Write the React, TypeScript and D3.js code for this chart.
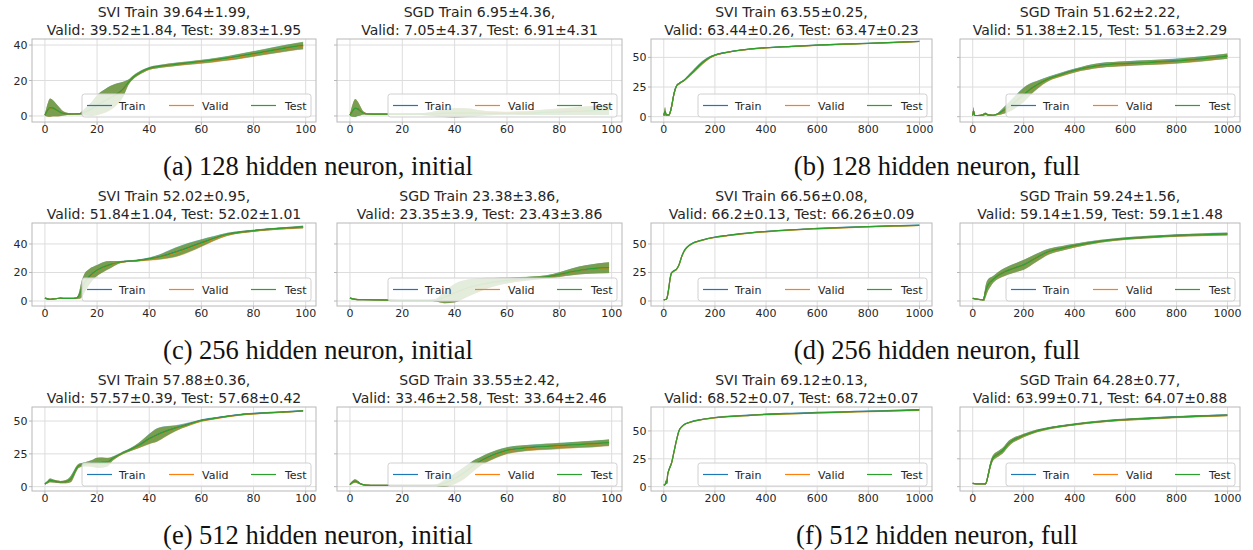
import React from "react";
import * as d3 from "d3";

const SERIES = ["Train", "Valid", "Test"];
const SERIES_COLORS = ["#1f77b4", "#ff7f0e", "#2ca02c"];

const SHORT_TICKS = [0, 20, 40, 60, 80, 100];
const LONG_TICKS = [0, 200, 400, 600, 800, 1000];

// (a) 128 hidden neurons, initial
const aSviEpoch = [0, 1, 2, 3, 5, 7, 10, 13, 15, 18, 20, 23, 25, 28, 30, 32, 34, 36, 38, 40, 45, 50, 55, 60, 65, 70, 75, 80, 85, 90, 95, 99];
const aSviTrain = [0.5, 3.2, 4.7, 4.4, 2.8, 1.5, 1.1, 1.2, 2.0, 4.0, 6.2, 8.5, 10.1, 12.8, 15.1, 19.0, 22.0, 24.0, 25.6, 26.8, 28.2, 29.1, 29.8, 30.6, 31.5, 32.5, 33.7, 35.0, 36.3, 37.6, 38.8, 39.6];
const aSviValid = [0.5, 3.1, 4.6, 4.3, 2.7, 1.5, 1.1, 1.2, 2.0, 3.9, 6.0, 8.3, 10.0, 12.6, 15.0, 18.9, 21.9, 23.9, 25.5, 26.7, 28.1, 29.0, 29.7, 30.5, 31.3, 32.3, 33.5, 34.8, 36.1, 37.4, 38.7, 39.5];
const aSviTest = [0.5, 3.2, 4.7, 4.4, 2.8, 1.5, 1.1, 1.2, 2.0, 4.0, 6.1, 8.4, 10.1, 12.7, 15.1, 19.0, 22.0, 24.0, 25.6, 26.8, 28.2, 29.1, 29.9, 30.7, 31.6, 32.6, 33.8, 35.1, 36.4, 37.7, 39.0, 39.8];
const aSviStd = [0.4, 3.5, 5.2, 4.6, 3.0, 1.2, 0.4, 0.3, 1.8, 4.0, 5.6, 6.6, 6.8, 5.8, 4.2, 1.5, 1.0, 0.9, 0.9, 0.8, 0.8, 0.9, 0.9, 1.0, 1.1, 1.2, 1.4, 1.5, 1.6, 1.8, 1.9, 2.0];

const aSgdEpoch = [0, 1, 2, 3, 4, 5, 7, 10, 15, 20, 25, 30, 35, 40, 45, 50, 55, 60, 65, 70, 75, 80, 85, 90, 95, 99];
const aSgdTrain = [0.5, 3.0, 4.5, 4.0, 2.8, 1.8, 1.1, 1.0, 1.0, 1.0, 1.0, 1.1, 1.5, 1.8, 1.8, 1.6, 1.5, 1.5, 1.6, 1.8, 2.1, 2.4, 2.7, 3.0, 3.3, 3.5];
const aSgdValid = [0.5, 3.1, 4.6, 4.1, 2.9, 1.8, 1.1, 1.0, 1.0, 1.0, 1.0, 1.1, 1.5, 1.9, 1.9, 1.7, 1.6, 1.6, 1.7, 1.9, 2.2, 2.5, 2.8, 3.1, 3.4, 3.6];
const aSgdTest = [0.5, 3.0, 4.4, 4.0, 2.8, 1.7, 1.1, 1.0, 1.0, 1.0, 1.0, 1.1, 1.4, 1.8, 1.8, 1.6, 1.5, 1.5, 1.6, 1.8, 2.1, 2.3, 2.6, 2.9, 3.2, 3.4];
const aSgdStd = [0.4, 3.5, 5.0, 4.0, 2.5, 1.0, 0.3, 0.2, 0.2, 0.2, 0.3, 0.8, 2.0, 2.6, 2.4, 1.5, 1.0, 0.8, 1.0, 1.2, 1.5, 1.8, 2.1, 2.4, 2.6, 2.8];

// (b) 128 hidden neurons, full
const bSviEpoch = [0, 5, 10, 20, 30, 40, 50, 60, 80, 100, 120, 150, 175, 200, 250, 300, 400, 500, 600, 700, 800, 900, 999];
const bSviTrain = [1.0, 4.5, 1.5, 1.5, 8.0, 19.5, 26.0, 28.0, 30.8, 35.0, 39.2, 45.4, 49.5, 52.0, 54.5, 56.2, 58.2, 59.3, 60.4, 61.2, 61.9, 62.7, 63.5];
const bSviValid = [1.0, 4.4, 1.5, 1.5, 7.8, 19.2, 25.8, 27.8, 30.6, 34.7, 38.9, 45.0, 49.1, 51.7, 54.2, 56.0, 58.0, 59.1, 60.2, 61.0, 61.7, 62.5, 63.4];
const bSviTest = [1.0, 4.5, 1.5, 1.5, 7.9, 19.4, 25.9, 27.9, 30.7, 34.8, 39.0, 45.2, 49.3, 51.9, 54.3, 56.1, 58.1, 59.2, 60.3, 61.1, 61.8, 62.6, 63.4];
const bSviStd = [0.5, 3.5, 0.8, 0.8, 2.5, 2.0, 1.0, 0.8, 0.8, 1.2, 1.5, 1.5, 1.0, 0.6, 0.4, 0.3, 0.3, 0.3, 0.3, 0.3, 0.3, 0.3, 0.3];

const bSgdEpoch = [0, 3, 8, 20, 40, 50, 60, 80, 100, 120, 150, 175, 200, 225, 250, 300, 350, 400, 500, 600, 700, 800, 900, 999];
const bSgdTrain = [1.0, 5.0, 1.0, 1.0, 1.5, 2.5, 1.5, 1.2, 2.4, 5.0, 9.5, 14.0, 18.5, 23.0, 26.5, 32.2, 35.8, 39.0, 43.3, 44.8, 45.8, 47.0, 48.8, 51.1];
const bSgdValid = [1.0, 5.0, 1.0, 1.0, 1.5, 2.4, 1.5, 1.2, 2.3, 4.8, 9.2, 13.7, 18.2, 22.7, 26.2, 31.9, 35.5, 38.7, 43.0, 44.5, 45.5, 46.7, 48.5, 50.8];
const bSgdTest = [1.0, 5.0, 1.0, 1.0, 1.5, 2.5, 1.5, 1.2, 2.4, 5.0, 9.4, 13.9, 18.4, 22.9, 26.4, 32.1, 35.7, 38.9, 43.2, 44.7, 45.7, 46.9, 48.8, 51.1];
const bSgdStd = [0.5, 3.0, 0.5, 0.3, 0.8, 1.0, 0.5, 0.4, 1.0, 2.5, 4.5, 5.5, 6.0, 5.0, 3.5, 1.8, 1.6, 1.6, 2.0, 2.0, 2.0, 2.0, 2.1, 2.2];

// (c) 256 hidden neurons, initial
const cSviEpoch = [0, 2, 4, 6, 8, 10, 12, 13, 14, 15, 17, 20, 22, 25, 28, 30, 35, 40, 45, 50, 55, 60, 65, 70, 75, 80, 85, 90, 95, 99];
const cSviTrain = [2.0, 1.2, 1.6, 2.0, 1.8, 1.8, 2.0, 3.5, 8.0, 12.0, 17.0, 21.5, 23.5, 25.5, 27.0, 27.6, 28.3, 29.5, 31.5, 34.3, 37.5, 40.8, 44.0, 46.8, 48.3, 49.3, 50.2, 50.9, 51.4, 51.9];
const cSviValid = [2.0, 1.2, 1.6, 2.0, 1.8, 1.8, 2.0, 3.4, 7.8, 11.8, 16.8, 21.3, 23.3, 25.3, 26.9, 27.5, 28.1, 29.2, 31.1, 33.8, 37.0, 40.3, 43.6, 46.5, 48.1, 49.1, 50.0, 50.7, 51.2, 51.7];
const cSviTest = [2.0, 1.2, 1.6, 2.0, 1.8, 1.8, 2.0, 3.5, 8.0, 12.0, 17.0, 21.5, 23.5, 25.5, 27.0, 27.6, 28.3, 29.5, 31.4, 34.2, 37.4, 40.7, 44.0, 46.8, 48.3, 49.3, 50.2, 50.9, 51.5, 52.0];
const cSviStd = [0.3, 0.2, 0.3, 0.3, 0.3, 0.3, 0.5, 2.0, 5.5, 6.5, 5.5, 3.8, 3.5, 2.5, 1.0, 0.6, 0.6, 1.0, 2.0, 3.2, 3.2, 2.5, 1.5, 1.0, 0.8, 0.7, 0.7, 0.7, 0.8, 0.9];

const cSgdEpoch = [0, 2, 5, 10, 15, 20, 25, 30, 33, 36, 40, 45, 50, 55, 60, 65, 70, 75, 80, 85, 90, 95, 99];
const cSgdTrain = [2.0, 1.2, 1.0, 0.8, 0.6, 0.5, 0.4, 0.4, 0.6, 2.5, 5.5, 9.0, 11.5, 13.2, 14.3, 15.2, 16.0, 16.8, 18.5, 20.5, 22.0, 22.9, 23.4];
const cSgdValid = [2.0, 1.2, 1.0, 0.8, 0.6, 0.5, 0.4, 0.4, 0.6, 2.4, 5.4, 8.9, 11.4, 13.1, 14.2, 15.1, 15.9, 16.7, 18.4, 20.4, 21.9, 22.8, 23.3];
const cSgdTest = [2.0, 1.2, 1.0, 0.8, 0.6, 0.5, 0.4, 0.4, 0.6, 2.5, 5.6, 9.1, 11.6, 13.3, 14.4, 15.3, 16.1, 16.9, 18.6, 20.6, 22.1, 23.0, 23.4];
const cSgdStd = [0.4, 0.3, 0.2, 0.2, 0.2, 0.2, 0.2, 0.3, 1.0, 4.0, 6.5, 6.0, 4.5, 3.0, 2.0, 1.5, 1.2, 1.2, 1.6, 2.4, 3.0, 3.5, 3.8];

// (d) 256 hidden neurons, full
const dSviEpoch = [0, 10, 15, 20, 25, 30, 40, 50, 60, 70, 80, 90, 100, 120, 150, 200, 250, 300, 400, 500, 600, 700, 800, 900, 999];
const dSviTrain = [1.0, 1.5, 5.0, 12.0, 20.0, 24.5, 26.5, 28.0, 32.0, 39.0, 44.0, 47.0, 49.0, 51.5, 53.5, 56.0, 57.6, 59.0, 61.0, 62.5, 63.6, 64.5, 65.3, 66.0, 66.6];
const dSviValid = [1.0, 1.5, 4.9, 11.8, 19.8, 24.3, 26.3, 27.8, 31.8, 38.7, 43.7, 46.7, 48.7, 51.2, 53.2, 55.7, 57.3, 58.7, 60.7, 62.2, 63.3, 64.2, 65.0, 65.6, 66.2];
const dSviTest = [1.0, 1.5, 5.0, 11.9, 19.9, 24.4, 26.4, 27.9, 31.9, 38.9, 43.9, 46.9, 48.9, 51.4, 53.4, 55.9, 57.5, 58.9, 60.9, 62.4, 63.5, 64.4, 65.2, 65.8, 66.3];
const dSviStd = [0.3, 0.5, 1.5, 1.5, 1.0, 0.8, 0.6, 0.5, 0.5, 0.5, 0.4, 0.3, 0.3, 0.2, 0.2, 0.2, 0.1, 0.1, 0.1, 0.1, 0.1, 0.1, 0.1, 0.1, 0.1];

const dSgdEpoch = [0, 10, 20, 30, 40, 45, 50, 60, 70, 80, 100, 125, 150, 175, 200, 250, 300, 350, 400, 500, 600, 700, 800, 900, 999];
const dSgdTrain = [2.3, 1.8, 1.5, 1.2, 0.9, 3.0, 8.0, 14.0, 16.8, 19.0, 22.5, 25.5, 27.8, 29.8, 31.8, 38.0, 43.5, 46.2, 48.6, 52.4, 54.8, 56.3, 57.5, 58.2, 58.8];
const dSgdValid = [2.3, 1.8, 1.5, 1.2, 0.9, 2.9, 7.8, 13.8, 16.6, 18.8, 22.3, 25.3, 27.6, 29.6, 31.6, 37.8, 43.3, 46.0, 48.4, 52.2, 54.6, 56.1, 57.3, 58.0, 58.7];
const dSgdTest = [2.3, 1.8, 1.5, 1.2, 0.9, 3.0, 7.9, 13.9, 16.7, 18.9, 22.4, 25.4, 27.7, 29.7, 31.7, 37.9, 43.4, 46.1, 48.5, 52.3, 54.7, 56.2, 57.4, 58.1, 58.7];
const dSgdStd = [0.4, 0.4, 0.4, 0.3, 0.3, 3.0, 5.0, 5.0, 4.0, 3.0, 3.0, 3.5, 3.8, 4.0, 4.3, 3.5, 2.5, 2.0, 1.6, 1.2, 1.1, 1.1, 1.1, 1.2, 1.2];

// (e) 512 hidden neurons, initial
const eSviEpoch = [0, 1, 2, 4, 6, 8, 10, 11, 12, 13, 15, 18, 20, 22, 24, 26, 28, 30, 33, 36, 40, 43, 46, 50, 55, 60, 65, 70, 75, 80, 85, 90, 95, 99];
const eSviTrain = [2.0, 3.5, 4.8, 4.0, 3.5, 3.8, 6.0, 9.5, 13.5, 16.0, 17.0, 17.8, 18.3, 18.5, 18.8, 21.5, 23.8, 25.9, 28.5, 31.5, 36.5, 39.5, 42.0, 44.6, 47.6, 50.6, 52.2, 53.8, 55.0, 55.8, 56.4, 56.9, 57.4, 57.9];
const eSviValid = [2.0, 3.4, 4.7, 4.0, 3.5, 3.8, 5.9, 9.3, 13.3, 15.8, 16.8, 17.6, 18.1, 18.3, 18.6, 21.3, 23.6, 25.7, 28.3, 31.2, 36.2, 39.2, 41.7, 44.3, 47.2, 50.1, 51.8, 53.4, 54.6, 55.4, 56.0, 56.6, 57.1, 57.6];
const eSviTest = [2.0, 3.5, 4.8, 4.0, 3.5, 3.8, 6.0, 9.4, 13.4, 15.9, 16.9, 17.7, 18.2, 18.4, 18.7, 21.4, 23.7, 25.8, 28.4, 31.4, 36.4, 39.4, 41.9, 44.5, 47.4, 50.4, 52.0, 53.6, 54.8, 55.6, 56.2, 56.7, 57.2, 57.7];
const eSviStd = [0.3, 1.0, 1.5, 1.0, 0.8, 1.2, 2.5, 2.5, 2.0, 1.5, 1.5, 2.5, 3.8, 3.8, 3.2, 1.5, 1.0, 1.0, 1.2, 2.0, 3.8, 5.0, 4.0, 2.2, 1.2, 0.8, 0.6, 0.5, 0.5, 0.4, 0.4, 0.4, 0.4, 0.4];

const eSgdEpoch = [0, 1, 2, 3, 4, 6, 10, 15, 20, 25, 30, 33, 36, 40, 44, 48, 50, 53, 56, 60, 65, 70, 75, 80, 85, 90, 95, 99];
const eSgdTrain = [1.5, 3.5, 4.3, 3.5, 2.2, 1.2, 1.0, 1.0, 1.0, 1.0, 1.0, 1.1, 2.5, 6.0, 11.0, 17.0, 19.5, 22.5, 25.0, 27.5, 29.0, 29.9, 30.5, 31.1, 31.7, 32.3, 32.9, 33.5];
const eSgdValid = [1.5, 3.5, 4.2, 3.4, 2.2, 1.2, 1.0, 1.0, 1.0, 1.0, 1.0, 1.1, 2.4, 5.8, 10.8, 16.7, 19.2, 22.2, 24.7, 27.2, 28.7, 29.6, 30.2, 30.8, 31.4, 32.0, 32.7, 33.3];
const eSgdTest = [1.5, 3.5, 4.3, 3.5, 2.2, 1.2, 1.0, 1.0, 1.0, 1.0, 1.0, 1.1, 2.5, 6.1, 11.1, 17.1, 19.6, 22.6, 25.1, 27.6, 29.1, 30.0, 30.6, 31.2, 31.8, 32.4, 33.0, 33.6];
const eSgdStd = [0.4, 1.0, 1.3, 1.0, 0.6, 0.3, 0.2, 0.2, 0.2, 0.2, 0.2, 0.5, 2.5, 4.0, 4.5, 3.8, 3.2, 3.0, 2.8, 2.5, 2.3, 2.2, 2.2, 2.2, 2.3, 2.4, 2.4, 2.5];

// (f) 512 hidden neurons, full
const fSviEpoch = [0, 5, 8, 10, 12, 15, 20, 25, 30, 40, 50, 60, 70, 80, 100, 150, 200, 300, 400, 500, 600, 700, 800, 900, 999];
const fSviTrain = [1.5, 2.0, 3.5, 5.0, 3.0, 10.5, 15.0, 18.0, 21.0, 31.4, 42.0, 50.5, 53.8, 55.8, 57.8, 60.5, 62.1, 63.8, 65.1, 65.9, 66.6, 67.2, 67.8, 68.4, 69.1];
const fSviValid = [1.5, 2.0, 3.4, 4.9, 3.0, 10.3, 14.8, 17.8, 20.8, 31.1, 41.7, 50.2, 53.5, 55.5, 57.5, 60.2, 61.8, 63.4, 64.7, 65.4, 66.1, 66.7, 67.3, 67.9, 68.5];
const fSviTest = [1.5, 2.0, 3.5, 5.0, 3.0, 10.4, 14.9, 17.9, 20.9, 31.3, 41.9, 50.4, 53.7, 55.7, 57.6, 60.3, 61.9, 63.5, 64.8, 65.5, 66.2, 66.9, 67.5, 68.1, 68.7];
const fSviStd = [0.4, 0.5, 1.5, 2.0, 1.0, 1.2, 1.0, 1.0, 1.0, 0.8, 0.6, 0.5, 0.3, 0.2, 0.2, 0.1, 0.1, 0.1, 0.1, 0.1, 0.1, 0.1, 0.1, 0.1, 0.1];

const fSgdEpoch = [0, 20, 40, 50, 55, 60, 70, 80, 100, 120, 140, 160, 180, 200, 250, 300, 400, 500, 600, 700, 800, 900, 999];
const fSgdTrain = [3.0, 2.5, 2.5, 2.5, 5.0, 10.0, 20.0, 26.0, 29.5, 33.0, 38.5, 42.0, 44.0, 46.0, 50.0, 52.6, 56.0, 58.5, 60.2, 61.5, 62.6, 63.5, 64.3];
const fSgdValid = [3.0, 2.5, 2.5, 2.5, 4.9, 9.8, 19.8, 25.8, 29.3, 32.8, 38.3, 41.8, 43.8, 45.8, 49.8, 52.4, 55.8, 58.3, 60.0, 61.2, 62.3, 63.2, 64.0];
const fSgdTest = [3.0, 2.5, 2.5, 2.5, 5.0, 9.9, 19.9, 25.9, 29.4, 32.9, 38.4, 41.9, 43.9, 45.9, 49.9, 52.5, 55.9, 58.4, 60.1, 61.3, 62.4, 63.3, 64.1];
const fSgdStd = [0.5, 0.3, 0.3, 0.5, 1.5, 2.5, 3.0, 2.5, 2.5, 2.5, 2.5, 2.0, 1.8, 1.5, 1.2, 1.0, 0.9, 0.9, 0.9, 0.9, 0.8, 0.8, 0.8];

// axis limits per subfigure (SVI and SGD share y)
const yLimits = [[-3.4, 43.4], [-4.5, 65.5], [-3.5, 54.7], [-4.4, 68.4], [-3.3, 60.7], [-3.9, 71.5]];
const yTickSets = [[0, 20, 40], [0, 25, 50], [0, 20, 40], [0, 25, 50], [0, 25, 50], [0, 25, 50]];

const captions = [
  "(a) 128 hidden neuron, initial", "(b) 128 hidden neuron, full",
  "(c) 256 hidden neuron, initial", "(d) 256 hidden neuron, full",
  "(e) 512 hidden neuron, initial", "(f) 512 hidden neuron, full",
];

const panels = [
  { sub: 0, method: 0, title: ["SVI Train 39.64±1.99,", "Valid: 39.52±1.84, Test: 39.83±1.95"], epoch: aSviEpoch, vals: [aSviTrain, aSviValid, aSviTest], std: aSviStd },
  { sub: 0, method: 1, title: ["SGD Train 6.95±4.36,", "Valid: 7.05±4.37, Test: 6.91±4.31"], epoch: aSgdEpoch, vals: [aSgdTrain, aSgdValid, aSgdTest], std: aSgdStd },
  { sub: 1, method: 0, title: ["SVI Train 63.55±0.25,", "Valid: 63.44±0.26, Test: 63.47±0.23"], epoch: bSviEpoch, vals: [bSviTrain, bSviValid, bSviTest], std: bSviStd },
  { sub: 1, method: 1, title: ["SGD Train 51.62±2.22,", "Valid: 51.38±2.15, Test: 51.63±2.29"], epoch: bSgdEpoch, vals: [bSgdTrain, bSgdValid, bSgdTest], std: bSgdStd },
  { sub: 2, method: 0, title: ["SVI Train 52.02±0.95,", "Valid: 51.84±1.04, Test: 52.02±1.01"], epoch: cSviEpoch, vals: [cSviTrain, cSviValid, cSviTest], std: cSviStd },
  { sub: 2, method: 1, title: ["SGD Train 23.38±3.86,", "Valid: 23.35±3.9, Test: 23.43±3.86"], epoch: cSgdEpoch, vals: [cSgdTrain, cSgdValid, cSgdTest], std: cSgdStd },
  { sub: 3, method: 0, title: ["SVI Train 66.56±0.08,", "Valid: 66.2±0.13, Test: 66.26±0.09"], epoch: dSviEpoch, vals: [dSviTrain, dSviValid, dSviTest], std: dSviStd },
  { sub: 3, method: 1, title: ["SGD Train 59.24±1.56,", "Valid: 59.14±1.59, Test: 59.1±1.48"], epoch: dSgdEpoch, vals: [dSgdTrain, dSgdValid, dSgdTest], std: dSgdStd },
  { sub: 4, method: 0, title: ["SVI Train 57.88±0.36,", "Valid: 57.57±0.39, Test: 57.68±0.42"], epoch: eSviEpoch, vals: [eSviTrain, eSviValid, eSviTest], std: eSviStd },
  { sub: 4, method: 1, title: ["SGD Train 33.55±2.42,", "Valid: 33.46±2.58, Test: 33.64±2.46"], epoch: eSgdEpoch, vals: [eSgdTrain, eSgdValid, eSgdTest], std: eSgdStd },
  { sub: 5, method: 0, title: ["SVI Train 69.12±0.13,", "Valid: 68.52±0.07, Test: 68.72±0.07"], epoch: fSviEpoch, vals: [fSviTrain, fSviValid, fSviTest], std: fSviStd },
  { sub: 5, method: 1, title: ["SGD Train 64.28±0.77,", "Valid: 63.99±0.71, Test: 64.07±0.88"], epoch: fSgdEpoch, vals: [fSgdTrain, fSgdValid, fSgdTest], std: fSgdStd },
];

// layout (px)
const ROWS = [{ top: 39, bottom: 122 }, { top: 223, bottom: 306 }, { top: 407, bottom: 491 }];
const COLS = [{ left: 32, right: 316 }, { left: 337, right: 622 }, { left: 651, right: 932 }, { left: 960, right: 1240 }];
const CAPTION_X = [318, 937];
const CAPTION_Y = [175, 359, 544];

const SANS = "'DejaVu Sans', sans-serif";
const FRAME = "#b8b8b8";
const GRID = "#dddddd";
const TEXT = "#262626";

function Panel({ p, idx }) {
  const row = ROWS[Math.floor(p.sub / 2)];
  const col = COLS[(p.sub % 2) * 2 + p.method];
  const long = p.sub % 2 === 1;
  const xTicks = long ? LONG_TICKS : SHORT_TICKS;
  const xMax = long ? 999 : 99;
  const pad = xMax * 0.05;
  const x = d3.scaleLinear().domain([-pad, xMax + pad]).range([col.left, col.right]);
  const y = d3.scaleLinear().domain(yLimits[p.sub]).range([row.bottom, row.top]);
  const yTicks = yTickSets[p.sub];
  const clipId = `clip-${idx}`;

  const band = (vals) => d3.area()
    .x((_, i) => x(p.epoch[i]))
    .y0((v, i) => y(v - p.std[i]))
    .y1((v, i) => y(v + p.std[i]))
    .curve(d3.curveMonotoneX)(vals);
  const line = (vals) => d3.line()
    .x((_, i) => x(p.epoch[i]))
    .y(v => y(v))
    .curve(d3.curveMonotoneX)(vals);

  const cx = (col.left + col.right) / 2;
  const lg = { x: col.right - 5 - 229, y: row.bottom - 5 - 23, w: 229, h: 23 };
  const legendItems = [
    { line: 5, text: 37 },
    { line: 87, text: 120 },
    { line: 169, text: 203 },
  ];

  return (
    <g>
      <defs>
        <clipPath id={clipId}>
          <rect x={col.left} y={row.top} width={col.right - col.left} height={row.bottom - row.top} />
        </clipPath>
      </defs>
      <text x={cx} y={row.top - 22} textAnchor="middle" fontFamily={SANS} fontSize={14} fill={TEXT}>{p.title[0]}</text>
      <text x={cx} y={row.top - 4} textAnchor="middle" fontFamily={SANS} fontSize={14} fill={TEXT}>{p.title[1]}</text>

      {xTicks.map(t => (
        <line key={"gx" + t} x1={x(t)} x2={x(t)} y1={row.top} y2={row.bottom} stroke={GRID} strokeWidth={1} />
      ))}
      {yTicks.map(t => (
        <line key={"gy" + t} x1={col.left} x2={col.right} y1={y(t)} y2={y(t)} stroke={GRID} strokeWidth={1} />
      ))}

      <g clipPath={`url(#${clipId})`}>
        {p.vals.map((v, i) => (
          <path key={"b" + i} d={band(v)} fill={SERIES_COLORS[i]} fillOpacity={0.5} stroke="none" />
        ))}
        {p.vals.map((v, i) => (
          <path key={"l" + i} d={line(v)} fill="none" stroke={SERIES_COLORS[i]} strokeWidth={1.2} />
        ))}
      </g>

      <rect x={col.left} y={row.top} width={col.right - col.left} height={row.bottom - row.top} fill="none" stroke={FRAME} strokeWidth={1} />

      {xTicks.map(t => (
        <g key={"tx" + t}>
          <line x1={x(t)} x2={x(t)} y1={row.bottom} y2={row.bottom + 3} stroke={FRAME} />
          <text x={x(t)} y={row.bottom + 11} textAnchor="middle" fontFamily={SANS} fontSize={11} fill={TEXT}>{t}</text>
        </g>
      ))}
      {yTicks.map(t => (
        <g key={"ty" + t}>
          <line x1={col.left - 3} x2={col.left} y1={y(t)} y2={y(t)} stroke={FRAME} />
          {p.method === 0 && (
            <text x={col.left - 4.5} y={y(t) + 4} textAnchor="end" fontFamily={SANS} fontSize={11} fill={TEXT}>{t}</text>
          )}
        </g>
      ))}

      <rect x={lg.x} y={lg.y} width={lg.w} height={lg.h} rx={2.5} fill="#ffffff" fillOpacity={0.8} stroke="#d0d0d0" strokeWidth={1} />
      {SERIES.map((s, i) => (
        <g key={s}>
          <line x1={lg.x + legendItems[i].line} x2={lg.x + legendItems[i].line + 25} y1={lg.y + lg.h / 2} y2={lg.y + lg.h / 2} stroke={SERIES_COLORS[i]} strokeWidth={1.2} />
          <text x={lg.x + legendItems[i].text} y={lg.y + lg.h / 2 + 4} fontFamily={SANS} fontSize={11} fill={TEXT}>{s}</text>
        </g>
      ))}
    </g>
  );
}

export default function App() {
  return (
    <svg width={1253} height={550} style={{ position: "absolute", left: 0, top: 0, background: "#fff" }}>
      <rect width={1253} height={550} fill="#fff" />
      {panels.map((p, i) => <Panel key={i} p={p} idx={i} />)}
      {captions.map((c, i) => (
        <text key={c} x={CAPTION_X[i % 2]} y={CAPTION_Y[Math.floor(i / 2)]} textAnchor="middle"
          fontFamily="'Liberation Serif', 'Times New Roman', serif" fontSize={26.5} fill="#111">{c}</text>
      ))}
    </svg>
  );
}
